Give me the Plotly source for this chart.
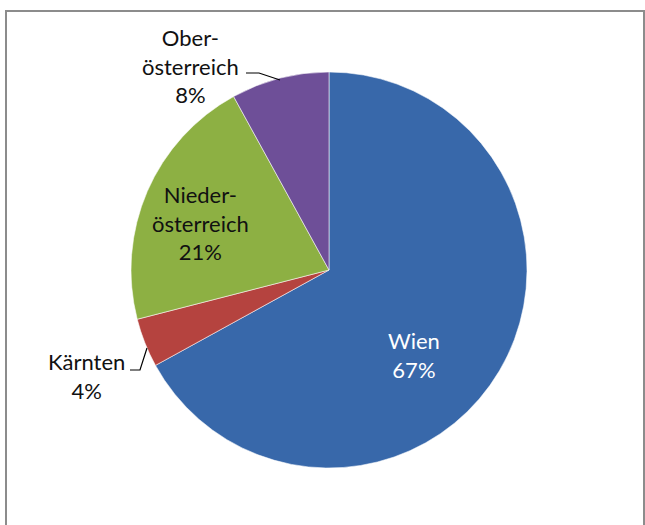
import plotly.graph_objects as go

# ---- data ----
categories = ["Wien", "Kärnten", "Niederösterreich", "Oberösterreich"]
label_lines = ["Wien", "Kärnten", "Nieder-<br>österreich", "Ober-<br>österreich"]
values = [67, 4, 21, 8]
colors = ["#3868AA", "#B5433F", "#8DB043", "#6E4F98"]
text_colors = ["white", "#111111", "#111111", "#111111"]

W, H = 645, 525
total = sum(values)
pct = [f"{round(v / total * 100)}%" for v in values]

# pie geometry (pixels)
cx, cy, r = 329, 270, 198

fig = go.Figure()
fig.add_trace(go.Pie(
    labels=categories,
    values=values,
    sort=False,
    direction="clockwise",
    rotation=0,
    marker=dict(colors=colors, line=dict(color="rgba(255,255,255,0.55)", width=1)),
    textinfo="none",
    hoverinfo="label+percent",
    showlegend=False,
    domain=dict(x=[(cx - r) / W, (cx + r) / W], y=[1 - (cy + r) / H, 1 - (cy - r) / H]),
))

# label positions (pixel centres)
label_pos = [(414, 355), (86, 376), (200, 223), (190, 66)]
font_family = "Lato, 'Open Sans', sans-serif"
for name, p, (px, py), tc in zip(label_lines, pct, label_pos, text_colors):
    fig.add_annotation(
        x=px / W, y=1 - py / H, xref="paper", yref="paper",
        text=f"{name}<br>{p}", showarrow=False, align="center",
        xanchor="center", yanchor="middle",
        font=dict(family=font_family, size=22, color=tc),
    )

def path(pts):
    return "M " + " L ".join(f"{x / W},{1 - y / H}" for x, y in pts)

# leader lines
fig.add_shape(type="path", xref="paper", yref="paper",
              path=path([(130, 370), (140, 370), (147, 348)]),
              line=dict(color="black", width=1.2))
fig.add_shape(type="path", xref="paper", yref="paper",
              path=path([(246, 73), (259, 73), (280, 80)]),
              line=dict(color="black", width=1.2))

# chart border
fig.add_shape(type="rect", xref="paper", yref="paper",
              x0=6 / W, x1=644 / W, y0=-0.05, y1=1 - 11 / H,
              line=dict(color="#8C8C8C", width=2), fillcolor="rgba(0,0,0,0)")

fig.update_layout(
    width=W, height=H,
    margin=dict(l=0, r=0, t=0, b=0),
    paper_bgcolor="white",
    plot_bgcolor="white",
)

fig.write_html("out.html", config={"displayModeBar": False},
               post_script="document.body.style.margin='0';")
